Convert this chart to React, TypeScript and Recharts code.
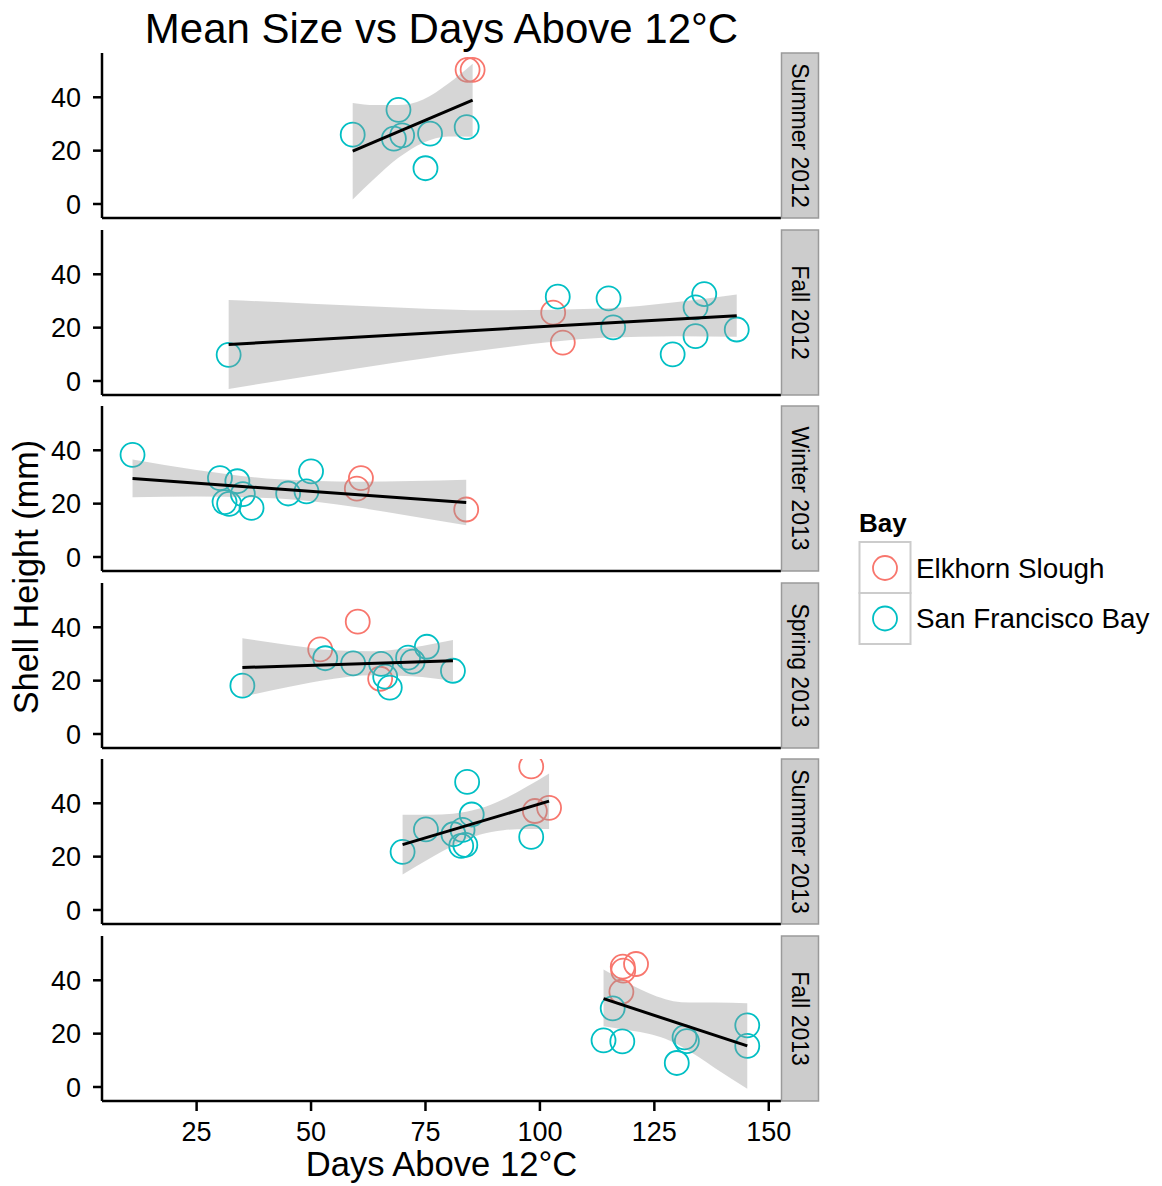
import { ComposedChart, Scatter, Line, Area, XAxis, YAxis } from 'recharts';

// facet rows, top to bottom
const seasons = ['Summer 2012', 'Fall 2012', 'Winter 2013', 'Spring 2013', 'Summer 2013', 'Fall 2013'];

// points per facet (Elkhorn Slough)
const elkhornX = [
  [84.2, 85.3],
  [102.9, 105.0],
  [60.9, 60.0, 83.9],
  [52.0, 60.2, 65.1],
  [98.1, 98.9, 102.0],
  [118.1, 121.0, 118.2, 117.8],
];
const elkhornY = [
  [50.3, 50.3],
  [25.6, 14.4],
  [29.6, 25.6, 17.8],
  [31.7, 42.1, 20.7],
  [53.8, 37.1, 38.3],
  [45.1, 46.1, 43.6, 35.7],
];

// points per facet (San Francisco Bay)
const sfBayX = [
  [59.1, 69.1, 68.1, 69.9, 76.0, 75.0, 84.0],
  [32.0, 103.9, 115.0, 116.0, 129.0, 134.0, 135.9, 134.0, 143.0],
  [11.0, 30.1, 33.9, 35.1, 31.1, 32.1, 37.0, 45.0, 49.0, 50.0],
  [35.0, 53.1, 59.2, 65.3, 66.2, 67.2, 71.2, 72.2, 75.3, 81.0],
  [70.0, 75.1, 81.1, 83.1, 84.1, 85.1, 82.8, 83.7, 98.1],
  [115.9, 113.9, 118.0, 131.6, 132.1, 129.9, 145.3, 145.3],
];
const sfBayY = [
  [26.0, 35.3, 24.5, 25.7, 26.4, 13.4, 28.8],
  [9.8, 31.6, 31.0, 20.1, 10.0, 27.6, 32.6, 16.8, 19.3],
  [38.3, 29.6, 28.4, 23.6, 20.6, 19.9, 18.4, 23.8, 24.6, 32.1],
  [18.1, 28.4, 26.5, 26.3, 21.5, 17.4, 28.6, 27.1, 32.7, 23.7],
  [21.8, 30.2, 28.4, 30.0, 48.0, 35.8, 24.0, 24.4, 27.4],
  [29.5, 17.5, 17.1, 18.6, 17.2, 9.0, 23.1, 15.4],
];

// lm fit line ends
const fitX = [[59.1, 85.3], [32.0, 143.0], [11.0, 83.9], [35.0, 81.0], [70.0, 102.0], [113.9, 145.3]];
const fitY = [[19.8, 38.9], [13.7, 24.5], [29.4, 20.4], [24.9, 27.5], [24.5, 40.8], [33.1, 15.4]];

// confidence band
const bandX = [
  [59.1, 64, 69, 74.5, 80, 85.3],
  [32, 50, 70, 90, 113.7, 130, 143],
  [11, 25, 43, 60, 72, 83.9],
  [35, 45, 55, 63.3, 72, 81],
  [70, 76, 81, 86.8, 92, 97, 102],
  [113.9, 120.1, 123.7, 127.4, 130.9, 134.6, 138.2, 145.3],
];
const bandLow = [
  [1.7, 9.7, 17.2, 23.0, 25.3, 25.2],
  [-3.0, 2.0, 7.3, 12.1, 16.2, 16.8, 16.6],
  [22.4, 22.7, 21.9, 18.6, 15.3, 11.9],
  [13.9, 17.6, 20.7, 22.0, 21.6, 19.8],
  [13.3, 19.4, 24.1, 28.2, 29.9, 30.4, 30.4],
  [22.8, 21.1, 20.0, 18.1, 15.2, 11.3, 7.1, -0.7],
];
const bandHigh = [
  [37.9, 37.1, 37.1, 39.2, 45.2, 52.6],
  [30.4, 29.0, 27.5, 26.5, 27.2, 29.6, 32.4],
  [36.5, 32.6, 29.1, 28.2, 28.5, 29.0],
  [35.9, 33.4, 31.4, 31.0, 32.4, 35.2],
  [35.7, 35.7, 36.1, 38.0, 41.5, 46.1, 51.2],
  [44.0, 38.1, 35.2, 32.9, 31.8, 31.7, 31.7, 31.4],
];

const xTicks = [25, 50, 75, 100, 125, 150];
const yTicks = [0, 20, 40];

const ES = '#F8766D';
const SF = '#00BFC4';
const FONT = '"Liberation Sans", Arial, Helvetica, sans-serif';

const PANEL_TOP = 53;
const PANEL_STEP = 176.6;
const PANEL_H = 165;
const PLOT_LEFT = 102;
const PLOT_RIGHT = 781;
const CHART_W = 830;

const panelTop = (i: number) => Math.round(PANEL_TOP + i * PANEL_STEP);

const ring = (color: string) => (props: any) => (
  <circle cx={props.cx} cy={props.cy} r={12} fill="none" stroke={color} strokeWidth={1.8} />
);

function Panel({ i }: { i: number }) {
  const last = i === seasons.length - 1;
  const es = elkhornX[i].map((x, k) => ({ x, y: elkhornY[i][k] }));
  const sf = sfBayX[i].map((x, k) => ({ x, y: sfBayY[i][k] }));
  const fit = fitX[i].map((x, k) => ({ x, y: fitY[i][k] }));
  const band = bandX[i].map((x, k) => ({ x, band: [bandLow[i][k], bandHigh[i][k]] }));
  const axisH = last ? 60 : 4;
  const axisStroke = { stroke: '#000', strokeWidth: 2.5 };

  return (
    <div style={{ position: 'absolute', left: 0, top: panelTop(i) }}>
      <ComposedChart
        width={CHART_W}
        height={PANEL_H + axisH}
        margin={{ top: 0, right: CHART_W - PLOT_RIGHT, bottom: 0, left: 0 }}
      >
        <XAxis
          type="number"
          dataKey="x"
          domain={[4.33, 152.67]}
          allowDataOverflow
          ticks={last ? xTicks : []}
          interval={0}
          height={axisH}
          axisLine={axisStroke}
          tickLine={last ? axisStroke : false}
          tick={last ? { fontSize: 27, fill: '#000', fontFamily: FONT } : false}
          tickSize={10}
          tickMargin={11}
        />
        <YAxis
          type="number"
          dataKey="y"
          domain={[-5.25, 56.6]}
          allowDataOverflow
          ticks={yTicks}
          interval={0}
          width={PLOT_LEFT}
          axisLine={axisStroke}
          tickLine={axisStroke}
          tick={{ fontSize: 27, fill: '#000', fontFamily: FONT }}
          tickSize={9}
          tickMargin={12}
        />
        <Scatter data={es} shape={ring(ES)} isAnimationActive={false} />
        <Scatter data={sf} shape={ring(SF)} isAnimationActive={false} />
        <Area
          data={band}
          dataKey="band"
          type="monotone"
          stroke="none"
          fill="#999999"
          fillOpacity={0.4}
          isAnimationActive={false}
          {...({ zIndex: 650 } as any)}
        />
        <Line
          data={fit}
          dataKey="y"
          type="linear"
          stroke="#000"
          strokeWidth={3}
          dot={false}
          activeDot={false}
          isAnimationActive={false}
          {...({ zIndex: 700 } as any)}
        />
      </ComposedChart>
    </div>
  );
}

export default function App() {
  return (
    <div style={{ position: 'absolute', left: 0, top: 0, width: 1162, height: 1186, background: '#fff' }}>
      {seasons.map((s, i) => (
        <Panel key={s} i={i} />
      ))}
      <svg
        width={1162}
        height={1186}
        style={{ position: 'absolute', left: 0, top: 0, pointerEvents: 'none' }}
        fontFamily={FONT}
      >
        <text x={441.5} y={42.5} textAnchor="middle" fontSize={42} fill="#000">
          Mean Size vs Days Above 12°C
        </text>
        <text transform="translate(38,577) rotate(-90)" textAnchor="middle" fontSize={34.3} fill="#000">
          Shell Height (mm)
        </text>
        <text x={441.5} y={1176} textAnchor="middle" fontSize={34.6} fill="#000">
          Days Above 12°C
        </text>

        {seasons.map((s, i) => {
          const top = panelTop(i);
          return (
            <g key={s}>
              <rect x={781.5} y={top} width={37} height={PANEL_H} fill="#cccccc" stroke="#9a9a9a" strokeWidth={1.5} />
              <text
                transform={`translate(800,${top + PANEL_H / 2}) rotate(90)`}
                textAnchor="middle"
                dominantBaseline="central"
                fontSize={23}
                fill="#000"
              >
                {s}
              </text>
            </g>
          );
        })}

        {/* legend */}
        <text x={859} y={531.5} fontSize={26} fontWeight="bold" fill="#000">Bay</text>
        <rect x={859.5} y={542} width={51} height={51} fill="#fff" stroke="#cccccc" strokeWidth={2} />
        <rect x={859.5} y={593} width={51} height={51} fill="#fff" stroke="#cccccc" strokeWidth={2} />
        <circle cx={885} cy={568} r={12} fill="none" stroke={ES} strokeWidth={1.8} />
        <circle cx={885} cy={618.5} r={12} fill="none" stroke={SF} strokeWidth={1.8} />
        <text x={916} y={578} fontSize={27.8} fill="#000">Elkhorn Slough</text>
        <text x={916} y={628} fontSize={27.8} fill="#000">San Francisco Bay</text>
      </svg>
    </div>
  );
}
